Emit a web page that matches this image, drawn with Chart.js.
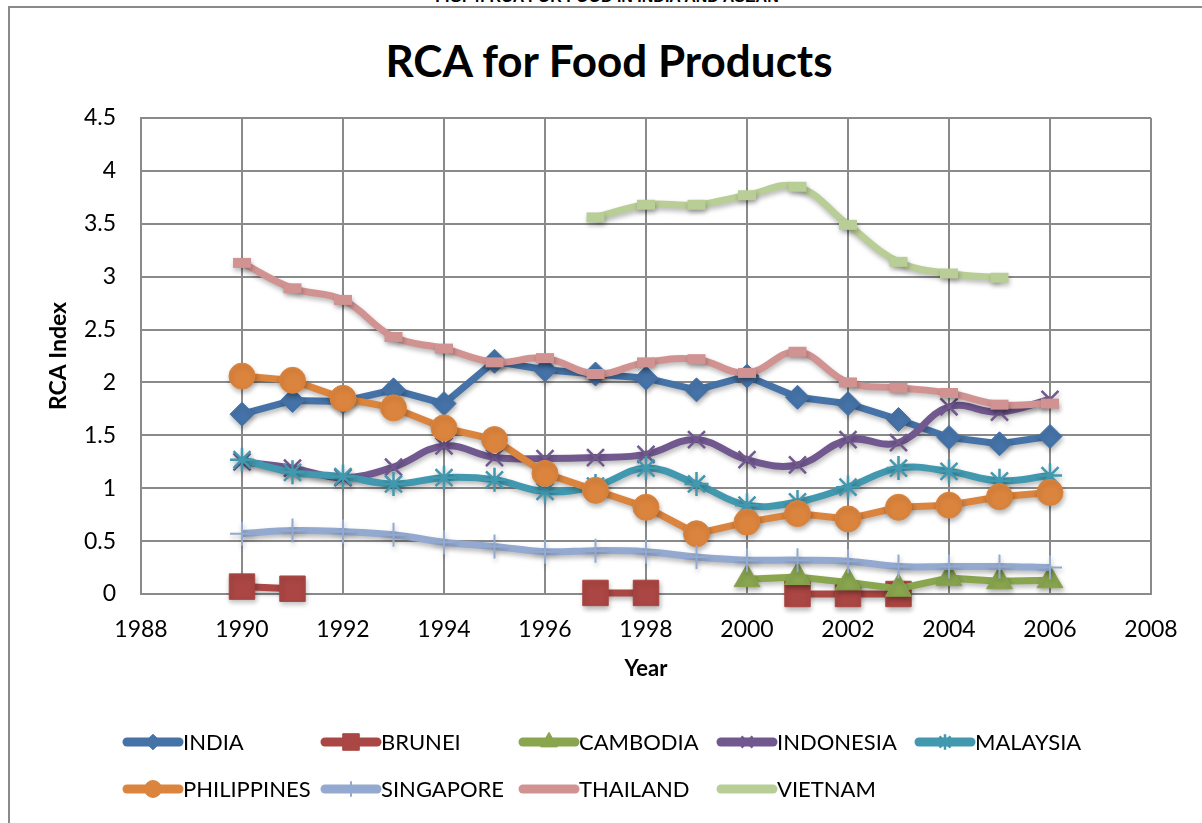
<!DOCTYPE html>
<html>
<head>
<meta charset="utf-8">
<title>RCA for Food Products</title>
<script src="https://cdn.jsdelivr.net/npm/chart.js@4.4.1/dist/chart.umd.min.js"></script>
<style>
  html, body { margin: 0; padding: 0; background: #fff; overflow: hidden; }
  #wrap { position: relative; width: 1202px; height: 823px; overflow: hidden; }
  #frame { position: absolute; left: 8px; top: 6px; width: 1400px; height: 1000px; border: 2px solid #8a8a8a; }
  #caption { position: absolute; top: -11px; left: 0; width: 1214px; text-align: center;
             font: bold 16px "Liberation Sans", sans-serif; line-height: 16px; color: #000; }
  #title { position: absolute; top: 38px; left: 0; width: 1218px; text-align: center;
           font: bold 44px Lato, sans-serif; line-height: 1; color: #000; }
  canvas { position: absolute; left: 0; top: 0; }
</style>
</head>
<body>
<div id="wrap">
  <div id="frame"></div>
  <div id="caption">FIG. 4: RCA FOR FOOD IN INDIA AND ASEAN</div>
  <div id="title">RCA for Food Products</div>
  <canvas id="chart" width="1202" height="823"></canvas>
</div>
<script>
// yearly RCA index values, null where a country has no figure
const years = [1990, 1991, 1992, 1993, 1994, 1995, 1996, 1997, 1998, 1999, 2000, 2001, 2002, 2003, 2004, 2005, 2006]

const india       = [1.70, 1.83, 1.82, 1.93, 1.80, 2.20, 2.12, 2.08, 2.04, 1.93, 2.06, 1.86, 1.80, 1.65, 1.48, 1.42, 1.49]
const brunei      = [0.07, 0.05, null, null, null, null, null, 0.01, 0.01, null, null, 0.00, 0.00, 0.00, null, null, null]
const cambodia    = [null, null, null, null, null, null, null, null, null, null, 0.14, 0.16, 0.11, 0.05, 0.15, 0.12, 0.13]
const indonesia   = [1.25, 1.19, 1.10, 1.20, 1.40, 1.29, 1.28, 1.29, 1.32, 1.46, 1.27, 1.22, 1.46, 1.43, 1.77, 1.72, 1.84]
const malaysia    = [1.27, 1.15, 1.11, 1.04, 1.10, 1.08, 0.97, 1.02, 1.19, 1.04, 0.84, 0.87, 1.01, 1.19, 1.16, 1.07, 1.12]
const philippines = [2.06, 2.02, 1.85, 1.76, 1.57, 1.46, 1.14, 0.98, 0.82, 0.57, 0.68, 0.76, 0.71, 0.82, 0.84, 0.92, 0.96]
const singapore   = [0.57, 0.60, 0.59, 0.56, 0.49, 0.45, 0.40, 0.41, 0.40, 0.35, 0.32, 0.32, 0.31, 0.26, 0.26, 0.26, 0.25]
const thailand    = [3.13, 2.89, 2.78, 2.43, 2.32, 2.19, 2.23, 2.08, 2.19, 2.22, 2.09, 2.29, 2.00, 1.95, 1.90, 1.79, 1.80]
const vietnam     = [null, null, null, null, null, null, null, 3.56, 3.68, 3.68, 3.77, 3.85, 3.49, 3.14, 3.03, 2.99, null]

const names = ["INDIA", "BRUNEI", "CAMBODIA", "INDONESIA", "MALAYSIA", "PHILIPPINES", "SINGAPORE", "THAILAND", "VIETNAM"]
const seriesValues = [india, brunei, cambodia, indonesia, malaysia, philippines, singapore, thailand, vietnam]

const xTicks = [1988, 1990, 1992, 1994, 1996, 1998, 2000, 2002, 2004, 2006, 2008]
const yTicks = [0, 0.5, 1, 1.5, 2, 2.5, 3, 3.5, 4, 4.5]

// look of each series (Excel 2007 palette)
const colors = ["#4572A7", "#AA4643", "#89A54E", "#71588F", "#4198AF", "#DB843D", "#93A9CF", "#D19392", "#B9CD96"]
const markers = [
  { style: "rectRot", r: 12, w: 1, smooth: false },
  { style: "rect", r: 18, w: 1, smooth: false },
  { style: "triangle", r: 15, w: 1, smooth: false },
  { style: "crossRot", r: 12, w: 2.5, smooth: true },
  { style: "star", r: 12, w: 2.5, smooth: true },
  { style: "circle", r: 13, w: 1, smooth: false },
  { style: "cross", r: 12, w: 2, smooth: true },
  { style: "line", r: 9, w: 10, smooth: true },
  { style: "line", r: 9, w: 10, smooth: true },
]

const font = "Lato, sans-serif"

const datasets = names.map((name, i) => ({
  label: name,
  data: years.map((x, j) => ({ x, y: seriesValues[i][j] })),
  borderColor: colors[i],
  backgroundColor: colors[i],
  pointBackgroundColor: colors[i],
  pointBorderColor: colors[i],
  borderWidth: 7,
  tension: markers[i].smooth ? 0.4 : 0,
  pointStyle: markers[i].style,
  pointRadius: markers[i].r,
  pointBorderWidth: markers[i].w,
  spanGaps: false,
  clip: false, // markers on the zero line hang below the axis
  order: names.length - 1 - i, // later series sit on top
}))

// soft drop shadow under lines and markers
const shadowPlugin = {
  id: "lineShadow",
  beforeDatasetDraw(chart) {
    const ctx = chart.ctx
    ctx.save()
    ctx.shadowColor = "rgba(0, 0, 0, 0.28)"
    ctx.shadowBlur = 5
    ctx.shadowOffsetX = 1
    ctx.shadowOffsetY = 3
  },
  afterDatasetDraw(chart) {
    chart.ctx.restore()
  },
}

// two-row legend with fixed columns under the axis
const legendPlugin = {
  id: "gridLegend",
  afterDraw(chart) {
    const ctx = chart.ctx
    chart.data.datasets.forEach((ds, i) => {
      const x0 = 122 + (i % 5) * 198
      const y = 742 + Math.floor(i / 5) * 47
      ctx.save()
      ctx.strokeStyle = ds.borderColor
      ctx.lineWidth = 9
      ctx.lineCap = "round"
      ctx.beginPath()
      ctx.moveTo(x0 + 5, y)
      ctx.lineTo(x0 + 57, y)
      ctx.stroke()
      if (Chart.helpers && Chart.helpers.drawPoint && ds.pointStyle !== "line") {
        ctx.lineCap = "butt"
        ctx.fillStyle = ds.pointBackgroundColor
        ctx.strokeStyle = ds.pointBorderColor
        ctx.lineWidth = ds.pointBorderWidth
        Chart.helpers.drawPoint(ctx, {
          pointStyle: ds.pointStyle,
          radius: ds.pointRadius * 0.65,
          borderWidth: ds.pointBorderWidth,
          rotation: 0,
        }, x0 + 31, y)
      }
      ctx.fillStyle = "#000"
      ctx.font = "22px " + font
      ctx.textBaseline = "middle"
      ctx.textAlign = "left"
      ctx.fillText(ds.label, x0 + 61, y + 1)
      ctx.restore()
    })
  },
}

new Chart(document.getElementById("chart"), {
  type: "line",
  data: { datasets },
  plugins: [shadowPlugin, legendPlugin],
  options: {
    responsive: false,
    animation: false,
    events: [],
    layout: { padding: { top: 118, right: 51, bottom: 129, left: 0 } },
    plugins: {
      legend: { display: false },
      title: { display: false },
      tooltip: { enabled: false },
    },
    scales: {
      x: {
        type: "linear",
        min: xTicks[0],
        max: xTicks[xTicks.length - 1],
        afterBuildTicks: (scale) => { scale.ticks = xTicks.map((v) => ({ value: v })) },
        afterFit: (scale) => { scale.height = 100 },
        ticks: {
          color: "#000",
          padding: 22,
          font: { family: font, size: 23 },
          callback: (v) => String(v),
        },
        grid: { color: "#8a8a8a", lineWidth: 2, drawTicks: false },
        border: { color: "#8a8a8a", width: 2 },
        title: {
          display: true,
          text: "Year",
          color: "#000",
          font: { family: font, size: 22, weight: "bold" },
          padding: { top: 0, bottom: 12 },
        },
      },
      y: {
        min: yTicks[0],
        max: yTicks[yTicks.length - 1],
        afterBuildTicks: (scale) => { scale.ticks = yTicks.map((v) => ({ value: v })) },
        afterFit: (scale) => { scale.width = 141 },
        ticks: {
          color: "#000",
          padding: 25,
          font: { family: font, size: 23 },
          callback: (v) => String(v),
        },
        grid: { color: "#8a8a8a", lineWidth: 2, drawTicks: false },
        border: { color: "#8a8a8a", width: 2 },
        title: {
          display: true,
          text: "RCA Index",
          color: "#000",
          font: { family: font, size: 23, weight: "bold" },
          padding: { top: 45, bottom: 0 },
        },
      },
    },
  },
})
</script>
</body>
</html>
